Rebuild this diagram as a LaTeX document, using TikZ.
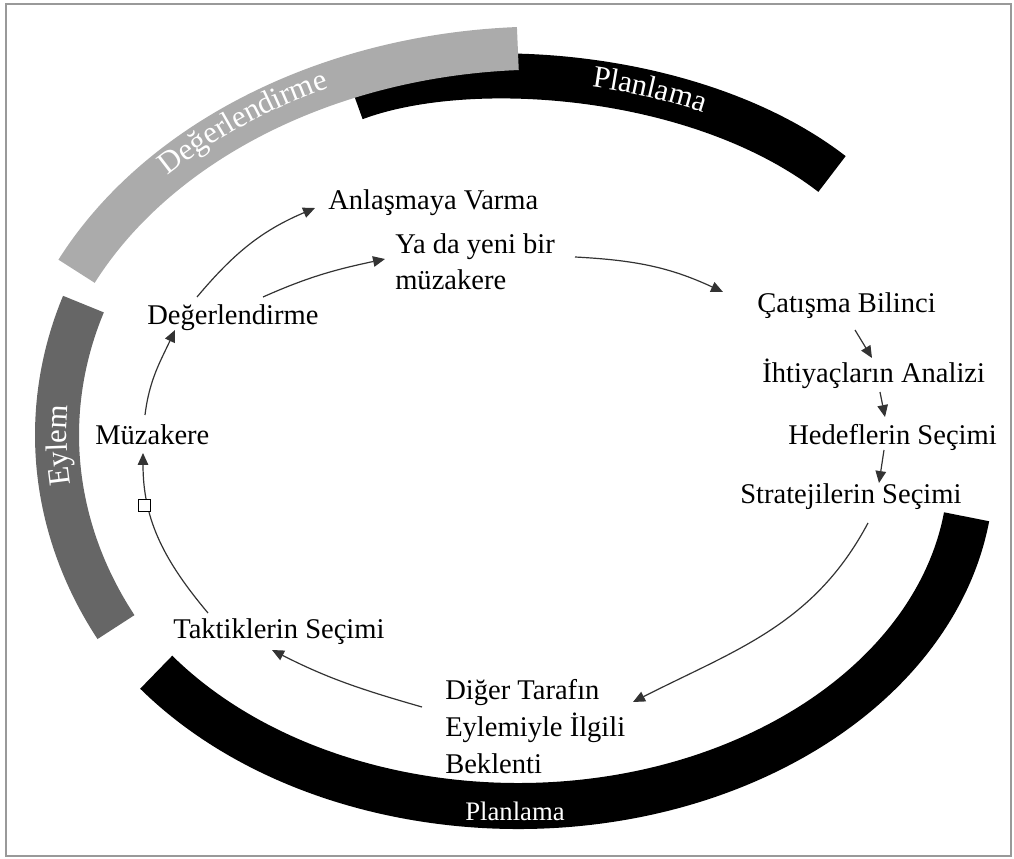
\documentclass[tikz,border=0pt]{standalone}
\usepackage{fontspec}
\setmainfont{Liberation Serif}
\usepackage{tikz}
\usetikzlibrary{arrows.meta,calc,decorations.text}
\definecolor{evalgray}{HTML}{ABABAB}
\definecolor{actgray}{HTML}{666666}
\newcommand\StageFont{\fontsize{20.3}{26}\selectfont}
\newcommand\BandFont{\fontsize{22}{26}\selectfont}
\tikzset{
  stage/.style={
    anchor = base west,
    inner sep = 0pt,
    align = left,
    font = \StageFont
  },
  flow/.style={
    draw = black!80,
    line width = 0.85pt,
    -{Triangle[length=8.5pt,width=7.5pt]}
  },
  band/.style={
    line width = #1,
    line cap = butt
  },
  bandtext/.style={
    decorate,
    decoration={text along path, text color=white, text={|\BandFont|#1}, text align=center}
  }
}

\begin{document}
\begin{tikzpicture}[x=0.025cm, y=0.025cm]
    \useasboundingbox (0,0) rectangle (1014,858);
    \draw[gray!80, line width=1.4pt] (6,2) rectangle (1011,854);

    % outer ring
    \draw[band=1.125cm] (355,760) .. controls (470,803) and (700,786) .. (832,684);
    \draw[band=1.075cm, evalgray] (545,418) ++(93:519 and 392) arc[start angle=93, end angle=154.5, x radius=519, y radius=392];
    \draw[band=1.1cm, actgray] (537,423) ++(160.9:480 and 400) arc[start angle=160.9, end angle=208.7, x radius=480, y radius=400];
    \draw[band=1.15cm] (518,388) ++(217:453 and 336) arc[start angle=217, end angle=352, x radius=453, y radius=336];

    \path[bandtext=Değerlendirme, decoration={raise=-3pt}] (545,418) ++(163:519 and 392) arc[start angle=163, end angle=93, x radius=519, y radius=392];
    \path[bandtext=Eylem, decoration={raise=-7pt}] (537,423) ++(200:480 and 400) arc[start angle=200, end angle=163, x radius=480, y radius=400];
    \path[bandtext=Planlama, decoration={raise=-3pt, text align={left, left indent=6cm}}] (355,760) .. controls (470,803) and (700,786) .. (832,684);
    \node[anchor=base, inner sep=0pt, text=white, font=\fontsize{19}{22}\selectfont] (planlow) at (515,38) {Planlama};

    % steps (multi-line nodes sit on their last line)
    \node[stage] (anl) at (328,648) {Anlaşmaya Varma};
    \node[stage] (yada) at (395,568) {Ya da yeni bir\\müzakere};
    \node[stage] (deg) at (147,533) {Değerlendirme};
    \node[stage] (muz) at (95,413) {Müzakere};
    \node[stage] (tak) at (173,220) {Taktiklerin Seçimi};
    \node[stage] (dig) at (445,85) {Diğer Tarafın\\Eylemiyle İlgili\\Beklenti};
    \node[stage] (cat) at (757,545) {Çatışma Bilinci};
    \node[stage] (iht) at (762,476) {İhtiyaçların Analizi};
    \node[stage] (hed) at (788,413) {Hedeflerin Seçimi};
    \node[stage] (str) at (740,355) {Stratejilerin Seçimi};

    \draw[flow] ($(deg.base west)+(50,28)$) to[out=50, in=203] ($(anl.base west)+(-13,2)$);
    \draw[flow] ($(deg.base west)+(116,28)$) to[out=24, in=192] ($(yada.base west)+(-10,31)$);
    \draw[flow] ($(yada.base west)+(180,33)$) to[out=-3, in=155] ($(cat.base west)+(-34,21)$);
    \draw[flow] ($(cat.base west)+(98,-17)$) -- ($(iht.base west)+(110,24)$);
    \draw[flow] ($(iht.base west)+(118,-10)$) -- ($(hed.base west)+(97,28)$);
    \draw[flow] ($(hed.base west)+(96,-5)$) -- ($(str.base west)+(139,20)$);
    \draw[flow] ($(str.base west)+(128,-20)$) to[out=242, in=27] ($(dig.base west)+(188,71)$);
    \draw[flow] ($(dig.base west)+(-23,66)$) to[out=164, in=-27] ($(tak.base west)+(99,-12)$);
    \draw[flow] ($(tak.base west)+(35,25)$) to[out=130, in=-90] ($(muz.base west)+(48,-8)$);
    \draw[flow] ($(muz.base west)+(50,30)$) to[out=83, in=245] ($(deg.base west)+(28,-5)$);

    \node[draw, fill=white, minimum size=8.5pt, inner sep=0pt, line width=0.6pt] (handle) at (144,353) {};
\end{tikzpicture}
\end{document}
